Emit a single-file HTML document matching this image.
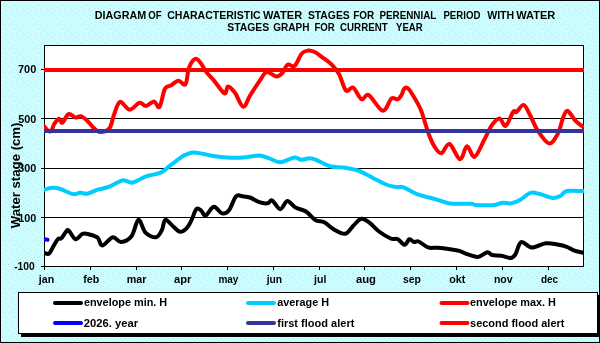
<!DOCTYPE html>
<html><head><meta charset="utf-8"><style>
html,body{margin:0;padding:0;width:600px;height:343px;overflow:hidden;background:#ccffff}
svg{display:block;will-change:transform}
.t{font-family:"Liberation Sans",sans-serif;font-weight:bold;font-size:10.5px;fill:#000}
.tt{font-family:"Liberation Sans",sans-serif;font-weight:bold;font-size:10.5px;fill:#000}
.at{font-family:"Liberation Sans",sans-serif;font-weight:bold;font-size:13.2px;fill:#000}
</style></head><body>
<svg width="600" height="343" viewBox="0 0 600 343">
<defs><pattern id="dots" width="12" height="12" patternUnits="userSpaceOnUse"><rect width="12" height="12" fill="#ccffff"/><g fill="#bde6ee"><rect x="2" y="0" width="1" height="1"/><rect x="5" y="0" width="1" height="1"/><rect x="8" y="0" width="1" height="1"/><rect x="11" y="0" width="1" height="1"/><rect x="0" y="2" width="1" height="1"/><rect x="4" y="2" width="1" height="1"/><rect x="9" y="2" width="1" height="1"/><rect x="6" y="3" width="1" height="1"/><rect x="3" y="4" width="1" height="1"/><rect x="1" y="5" width="1" height="1"/><rect x="7" y="5" width="1" height="1"/><rect x="10" y="5" width="1" height="1"/><rect x="5" y="6" width="1" height="1"/><rect x="8" y="7" width="1" height="1"/><rect x="2" y="8" width="1" height="1"/><rect x="5" y="8" width="1" height="1"/><rect x="11" y="8" width="1" height="1"/><rect x="0" y="10" width="1" height="1"/><rect x="4" y="10" width="1" height="1"/><rect x="7" y="10" width="1" height="1"/><rect x="10" y="10" width="1" height="1"/></g></pattern><clipPath id="pc"><rect x="44" y="45" width="540" height="222"/></clipPath></defs>
<rect x="0" y="0" width="600" height="343" fill="url(#dots)"/>
<rect x="0.5" y="0.5" width="599" height="342" fill="none" stroke="#000" stroke-width="1"/>
<rect x="44.5" y="45.5" width="539" height="221" fill="#fff"/>
<line x1="44" x2="584" y1="217.5" y2="217.5" stroke="#000" stroke-width="1"/>
<line x1="44" x2="584" y1="168.5" y2="168.5" stroke="#000" stroke-width="1"/>
<line x1="44" x2="584" y1="118.5" y2="118.5" stroke="#000" stroke-width="1"/>
<line x1="44" x2="584" y1="69.5" y2="69.5" stroke="#000" stroke-width="1"/>
<rect x="44.5" y="45.5" width="539" height="221" fill="none" stroke="#000" stroke-width="1"/>
<line x1="41" x2="44" y1="266.5" y2="266.5" stroke="#000" stroke-width="1"/>
<line x1="41" x2="44" y1="217.5" y2="217.5" stroke="#000" stroke-width="1"/>
<line x1="41" x2="44" y1="168.5" y2="168.5" stroke="#000" stroke-width="1"/>
<line x1="41" x2="44" y1="118.5" y2="118.5" stroke="#000" stroke-width="1"/>
<line x1="41" x2="44" y1="69.5" y2="69.5" stroke="#000" stroke-width="1"/>
<line x1="44.5" x2="44.5" y1="266" y2="270" stroke="#000" stroke-width="1"/>
<line x1="90.5" x2="90.5" y1="266" y2="270" stroke="#000" stroke-width="1"/>
<line x1="136.5" x2="136.5" y1="266" y2="270" stroke="#000" stroke-width="1"/>
<line x1="181.5" x2="181.5" y1="266" y2="270" stroke="#000" stroke-width="1"/>
<line x1="227.5" x2="227.5" y1="266" y2="270" stroke="#000" stroke-width="1"/>
<line x1="273.5" x2="273.5" y1="266" y2="270" stroke="#000" stroke-width="1"/>
<line x1="319.5" x2="319.5" y1="266" y2="270" stroke="#000" stroke-width="1"/>
<line x1="364.5" x2="364.5" y1="266" y2="270" stroke="#000" stroke-width="1"/>
<line x1="410.5" x2="410.5" y1="266" y2="270" stroke="#000" stroke-width="1"/>
<line x1="456.5" x2="456.5" y1="266" y2="270" stroke="#000" stroke-width="1"/>
<line x1="502.5" x2="502.5" y1="266" y2="270" stroke="#000" stroke-width="1"/>
<line x1="548.5" x2="548.5" y1="266" y2="270" stroke="#000" stroke-width="1"/>
<g clip-path="url(#pc)" fill="none" stroke-linecap="round" stroke-linejoin="round" stroke-width="4">
<path d="M44.0,252.8 C44.9,252.9 47.5,254.7 49.1,253.6 C50.7,252.5 52.0,248.5 53.5,246.1 C55.0,243.7 56.6,240.4 57.9,239.1 C59.2,237.8 60.1,239.4 61.4,238.2 C62.7,237.0 64.5,233.4 65.7,232.1 C66.9,230.8 66.9,229.1 68.5,230.3 C70.1,231.5 73.2,238.6 75.5,239.2 C77.8,239.8 80.2,234.6 82.5,233.8 C84.8,233.0 87.0,233.8 89.5,234.5 C92.0,235.2 95.6,236.0 97.7,237.8 C99.8,239.6 99.8,245.6 102.3,245.5 C104.8,245.4 109.7,237.9 112.8,237.3 C115.9,236.7 117.9,242.2 121.0,242.0 C124.1,241.8 128.6,239.9 131.5,236.2 C134.4,232.5 136.2,220.4 138.5,219.8 C140.8,219.2 142.6,229.8 145.5,232.7 C148.4,235.6 153.3,237.7 156.0,237.3 C158.7,236.9 160.2,233.2 161.8,230.3 C163.4,227.4 163.4,220.4 165.3,219.8 C167.2,219.2 171.1,224.8 173.5,226.8 C175.9,228.8 177.8,231.6 180.0,231.8 C182.2,232.0 185.1,229.8 187.0,227.8 C188.9,225.8 190.1,222.8 191.7,219.7 C193.2,216.6 194.8,210.8 196.3,209.2 C197.9,207.6 199.4,209.2 201.0,210.3 C202.6,211.4 203.6,216.1 205.7,215.5 C207.8,214.9 211.1,207.2 213.8,206.8 C216.5,206.5 219.5,212.8 222.0,213.4 C224.5,214.0 226.7,213.2 229.0,210.3 C231.3,207.5 233.7,198.6 236.0,196.3 C238.3,194.0 240.7,196.1 243.0,196.3 C245.3,196.5 247.3,196.5 250.0,197.5 C252.7,198.5 256.4,201.2 259.3,202.2 C262.2,203.2 265.4,203.6 267.5,203.3 C269.6,203.0 270.1,199.5 272.2,200.5 C274.3,201.5 277.8,209.1 280.3,209.2 C282.8,209.3 284.8,201.3 287.3,201.0 C289.8,200.7 292.4,205.8 295.5,207.5 C298.6,209.2 302.7,209.4 306.0,211.5 C309.3,213.6 312.3,218.3 315.3,220.1 C318.3,221.9 321.2,220.7 324.2,222.2 C327.2,223.7 330.0,227.3 333.5,229.2 C337.0,231.1 341.9,234.4 345.2,233.8 C348.5,233.2 350.6,228.2 353.3,225.7 C356.0,223.2 358.8,219.2 361.5,218.7 C364.2,218.2 366.8,220.8 369.7,222.9 C372.6,225.0 375.5,228.9 379.0,231.5 C382.5,234.1 387.6,237.2 390.7,238.5 C393.8,239.8 395.4,238.1 397.7,239.2 C400.0,240.2 402.8,244.8 404.7,244.8 C406.6,244.8 407.8,239.7 409.3,239.2 C410.9,238.7 412.4,241.6 414.0,242.0 C415.6,242.4 416.4,240.6 418.7,241.5 C421.0,242.4 424.9,246.3 428.0,247.4 C431.1,248.5 433.6,247.5 437.3,247.8 C441.0,248.1 446.3,248.7 450.0,249.2 C453.7,249.7 456.6,250.0 459.3,250.8 C462.0,251.6 463.2,252.8 466.3,253.8 C469.4,254.8 474.5,257.2 478.0,256.9 C481.5,256.6 485.0,252.5 487.3,252.2 C489.6,251.9 489.7,254.4 492.0,255.0 C494.3,255.6 498.2,255.2 501.3,255.7 C504.4,256.2 508.4,258.2 510.7,258.0 C513.0,257.8 513.5,257.1 515.3,254.5 C517.0,251.9 518.5,243.4 521.2,242.2 C523.9,241.0 527.6,247.3 531.7,247.5 C535.8,247.7 541.4,243.8 545.7,243.3 C550.0,242.8 553.8,243.9 557.3,244.5 C560.8,245.1 564.0,245.8 566.7,246.8 C569.4,247.8 571.0,249.3 573.7,250.3 C576.4,251.3 581.5,252.3 583.0,252.7" stroke="#000"/>
<path d="M44.0,189.7 C45.4,189.4 49.5,187.9 52.2,187.8 C54.9,187.7 56.8,187.9 60.3,189.0 C63.8,190.1 69.9,193.5 73.2,194.1 C76.5,194.7 77.9,192.8 80.2,192.7 C82.5,192.6 84.3,194.2 87.2,193.7 C90.1,193.2 94.0,190.9 97.7,189.7 C101.4,188.5 105.4,188.2 109.3,186.7 C113.2,185.2 118.3,181.8 121.0,180.8 C123.7,179.8 123.8,180.5 125.7,180.8 C127.7,181.1 129.2,183.3 132.7,182.5 C136.2,181.7 142.0,177.8 146.7,176.2 C151.4,174.6 156.8,174.4 160.7,172.7 C164.6,170.9 166.9,168.0 170.0,165.7 C173.1,163.4 176.9,160.4 179.3,158.7 C181.8,156.9 182.4,156.2 184.7,155.2 C186.9,154.1 189.7,152.6 192.8,152.4 C195.9,152.2 199.6,153.3 203.3,154.0 C207.0,154.7 211.1,155.7 215.0,156.3 C218.9,156.9 222.0,157.3 226.7,157.5 C231.4,157.7 237.6,157.8 243.0,157.5 C248.4,157.2 255.0,155.5 259.3,155.6 C263.6,155.7 265.2,157.1 268.7,158.2 C272.2,159.3 276.0,162.3 280.3,162.2 C284.6,162.1 290.8,157.9 294.3,157.5 C297.8,157.1 298.8,159.7 301.3,159.8 C303.8,159.9 307.1,158.2 309.5,158.2 C311.9,158.2 312.6,158.5 316.0,159.8 C319.4,161.2 325.3,165.0 330.0,166.3 C334.7,167.6 339.3,166.8 344.0,167.5 C348.7,168.2 353.3,168.8 358.0,170.5 C362.7,172.2 367.3,175.2 372.0,177.5 C376.7,179.8 382.1,182.9 386.0,184.5 C389.9,186.1 392.4,186.4 395.3,186.9 C398.2,187.4 400.0,186.1 403.5,187.3 C407.0,188.5 411.8,192.2 416.3,193.9 C420.8,195.7 426.0,196.6 430.3,197.8 C434.6,199.0 438.7,200.4 442.0,201.3 C445.3,202.2 445.2,203.0 450.0,203.4 C454.8,203.8 466.7,203.5 471.0,203.8 C475.3,204.1 471.8,204.8 475.7,205.0 C479.6,205.2 489.8,205.4 494.3,205.0 C498.8,204.6 499.8,203.0 502.5,202.7 C505.2,202.4 507.8,203.9 510.7,203.4 C513.6,202.9 516.7,201.7 520.0,199.9 C523.3,198.2 527.2,193.9 530.5,192.9 C533.8,191.9 536.1,193.2 539.8,194.0 C543.5,194.8 549.2,197.7 552.7,198.0 C556.2,198.3 558.5,196.9 560.8,195.7 C563.1,194.5 563.0,191.8 566.7,191.0 C570.4,190.2 580.3,191.0 583.0,191.0" stroke="#00ccff"/>
<path d="M44.0,126.3 C45.0,127.2 48.4,132.0 50.1,131.6 C51.9,131.2 53.0,125.8 54.5,123.7 C56.0,121.6 57.6,119.0 58.9,118.8 C60.2,118.6 60.8,123.6 62.4,122.8 C64.0,122.0 66.3,115.0 68.5,114.1 C70.7,113.2 73.5,117.2 75.5,117.6 C77.5,117.9 78.8,115.8 80.7,116.2 C82.6,116.6 84.8,118.4 86.8,120.2 C88.8,122.0 90.8,125.2 93.0,127.2 C95.2,129.2 97.2,132.0 100.0,132.1 C102.8,132.2 107.3,130.8 109.6,128.0 C111.9,125.2 112.2,119.3 113.9,115.0 C115.6,110.7 117.4,102.8 120.0,101.9 C122.6,101.0 126.4,109.6 129.7,109.7 C132.9,109.8 136.8,103.4 139.5,102.8 C142.2,102.2 143.6,106.2 146.0,106.0 C148.4,105.8 151.8,101.2 154.0,101.4 C156.2,101.6 157.7,109.1 159.5,107.0 C161.3,104.9 163.0,92.6 164.8,89.0 C166.7,85.4 168.3,87.0 170.6,85.6 C172.9,84.2 176.0,81.0 178.5,80.8 C181.0,80.6 183.8,86.5 185.5,84.3 C187.2,82.1 187.4,71.9 189.0,67.7 C190.6,63.5 193.1,59.9 195.0,59.0 C196.9,58.1 198.4,60.3 200.3,62.5 C202.2,64.7 204.1,69.1 206.4,72.1 C208.7,75.1 211.0,77.0 214.0,80.6 C217.0,84.1 222.2,92.4 224.5,93.4 C226.8,94.4 226.2,86.5 228.0,86.4 C229.8,86.3 232.5,89.4 235.0,92.8 C237.5,96.2 240.7,106.4 243.2,106.8 C245.7,107.2 247.5,99.5 250.2,95.2 C252.9,90.9 256.8,85.1 259.5,81.2 C262.2,77.3 263.8,72.9 266.6,72.1 C269.4,71.3 273.6,76.3 276.2,76.5 C278.8,76.7 280.4,75.0 282.3,73.0 C284.2,71.0 285.6,65.8 287.6,64.6 C289.7,63.4 292.3,67.8 294.6,66.0 C296.9,64.2 299.4,56.3 301.6,53.7 C303.8,51.1 305.5,50.9 307.7,50.6 C309.9,50.3 312.1,50.8 314.7,52.0 C317.3,53.2 320.6,56.1 323.4,58.1 C326.2,60.1 328.7,61.6 331.3,64.2 C333.9,66.9 336.6,69.6 339.0,74.0 C341.4,78.4 343.7,88.3 346.0,90.6 C348.3,92.9 350.4,86.1 353.0,87.6 C355.6,89.0 359.1,98.1 361.7,99.3 C364.3,100.5 365.2,93.1 368.7,95.0 C372.2,96.9 378.9,110.1 382.7,110.7 C386.5,111.3 388.9,100.4 391.4,98.5 C393.9,96.6 395.9,99.9 397.6,99.3 C399.3,98.7 400.4,96.7 401.5,95.0 C402.6,93.3 403.0,90.2 404.0,89.0 C405.0,87.8 406.2,87.3 407.5,88.0 C408.8,88.7 409.3,89.4 411.5,93.0 C413.7,96.6 418.0,103.0 420.8,109.8 C423.6,116.5 426.2,127.4 428.5,133.5 C430.8,139.6 432.2,143.0 434.3,146.3 C436.4,149.6 438.8,153.7 441.3,153.3 C443.8,152.9 446.4,143.0 449.5,144.0 C452.6,145.0 457.1,158.8 460.0,159.2 C462.9,159.6 464.6,146.7 467.0,146.3 C469.4,145.9 471.7,158.0 474.6,156.8 C477.5,155.6 481.6,144.6 484.5,139.3 C487.4,134.1 489.2,128.8 491.7,125.3 C494.2,121.8 497.2,118.3 499.5,118.4 C501.8,118.5 503.4,127.0 505.7,125.9 C508.0,124.8 511.3,114.2 513.1,111.9 C514.9,109.6 514.9,113.1 516.6,111.9 C518.4,110.7 521.4,104.5 523.6,104.9 C525.8,105.3 527.5,110.3 529.8,114.5 C532.1,118.7 534.4,125.5 537.6,130.3 C540.8,135.1 545.6,142.8 549.0,143.4 C552.4,144.0 555.5,138.0 557.8,133.8 C560.1,129.6 561.4,121.8 563.0,118.0 C564.6,114.2 565.4,110.3 567.4,110.7 C569.4,111.1 572.7,117.9 575.3,120.6 C577.9,123.3 581.7,125.8 583.0,126.8" stroke="#ff0000"/>
<path d="M44.5,239.3 L47.5,239.8" stroke="#0000ff"/>
<line x1="44" x2="584" y1="131" y2="131" stroke="#333399" stroke-linecap="butt"/>
<line x1="44" x2="584" y1="70" y2="70" stroke="#ff0000" stroke-linecap="butt"/>
</g>
<text transform="translate(20.4,228.3) rotate(-90)" class="at">Water stage (cm)</text>
<rect x="21" y="295" width="580" height="42" fill="#000"/>
<rect x="18.5" y="292.5" width="579" height="41" fill="#fff" stroke="#000" stroke-width="1"/>
<line x1="55.0" x2="81.0" y1="303" y2="303" stroke="#000" stroke-width="4" stroke-linecap="round"/>
<line x1="248.0" x2="274.0" y1="303" y2="303" stroke="#00ccff" stroke-width="4" stroke-linecap="round"/>
<line x1="441.5" x2="467.5" y1="303" y2="303" stroke="#ff0000" stroke-width="4" stroke-linecap="round"/>
<line x1="55.0" x2="81.0" y1="323" y2="323" stroke="#0000ff" stroke-width="4" stroke-linecap="round"/>
<line x1="248.0" x2="274.0" y1="323" y2="323" stroke="#333399" stroke-width="4" stroke-linecap="round"/>
<line x1="441.5" x2="467.5" y1="323" y2="323" stroke="#ff0000" stroke-width="4" stroke-linecap="round"/>
<text x="94.76" y="18.8" class="tt" textLength="51.42" lengthAdjust="spacingAndGlyphs">DIAGRAM</text>
<text x="148.22" y="18.8" class="tt" textLength="13.36" lengthAdjust="spacingAndGlyphs">OF</text>
<text x="167.22" y="18.8" class="tt" textLength="93.50" lengthAdjust="spacingAndGlyphs">CHARACTERISTIC</text>
<text x="263.04" y="18.8" class="tt" textLength="39.14" lengthAdjust="spacingAndGlyphs">WATER</text>
<text x="307.90" y="18.8" class="tt" textLength="41.82" lengthAdjust="spacingAndGlyphs">STAGES</text>
<text x="353.22" y="18.8" class="tt" textLength="21.00" lengthAdjust="spacingAndGlyphs">FOR</text>
<text x="379.40" y="18.8" class="tt" textLength="57.00" lengthAdjust="spacingAndGlyphs">PERENNIAL</text>
<text x="443.40" y="18.8" class="tt" textLength="37.00" lengthAdjust="spacingAndGlyphs">PERIOD</text>
<text x="487.18" y="18.8" class="tt" textLength="27.00" lengthAdjust="spacingAndGlyphs">WITH</text>
<text x="516.22" y="18.8" class="tt" textLength="39.00" lengthAdjust="spacingAndGlyphs">WATER</text>
<text x="227.22" y="30.8" class="tt" textLength="42.00" lengthAdjust="spacingAndGlyphs">STAGES</text>
<text x="273.22" y="30.8" class="tt" textLength="36.18" lengthAdjust="spacingAndGlyphs">GRAPH</text>
<text x="314.40" y="30.8" class="tt" textLength="20.36" lengthAdjust="spacingAndGlyphs">FOR</text>
<text x="340.08" y="30.8" class="tt" textLength="47.54" lengthAdjust="spacingAndGlyphs">CURRENT</text>
<text x="396.00" y="30.8" class="tt" textLength="26.58" lengthAdjust="spacingAndGlyphs">YEAR</text>
<text x="38.78" y="282.7" class="t" textLength="15.40" lengthAdjust="spacingAndGlyphs">jan</text>
<text x="83.18" y="282.7" class="t" textLength="16.04" lengthAdjust="spacingAndGlyphs">feb</text>
<text x="126.76" y="282.7" class="t" textLength="19.68" lengthAdjust="spacingAndGlyphs">mar</text>
<text x="174.04" y="282.7" class="t" textLength="17.36" lengthAdjust="spacingAndGlyphs">apr</text>
<text x="218.40" y="282.7" class="t" textLength="20.00" lengthAdjust="spacingAndGlyphs">may</text>
<text x="266.64" y="282.7" class="t" textLength="15.40" lengthAdjust="spacingAndGlyphs">jun</text>
<text x="314.10" y="282.7" class="t" textLength="12.26" lengthAdjust="spacingAndGlyphs">jul</text>
<text x="355.90" y="282.7" class="t" textLength="20.10" lengthAdjust="spacingAndGlyphs">aug</text>
<text x="403.04" y="282.7" class="t" textLength="17.86" lengthAdjust="spacingAndGlyphs">sep</text>
<text x="449.18" y="282.7" class="t" textLength="16.22" lengthAdjust="spacingAndGlyphs">okt</text>
<text x="493.94" y="282.7" class="t" textLength="18.68" lengthAdjust="spacingAndGlyphs">nov</text>
<text x="540.90" y="282.7" class="t" textLength="17.18" lengthAdjust="spacingAndGlyphs">dec</text>
<text x="18.04" y="72.8" class="t" textLength="18.18" lengthAdjust="spacingAndGlyphs">700</text>
<text x="18.22" y="122.8" class="t" textLength="18.00" lengthAdjust="spacingAndGlyphs">500</text>
<text x="18.22" y="172.3" class="t" textLength="18.00" lengthAdjust="spacingAndGlyphs">300</text>
<text x="18.22" y="221.8" class="t" textLength="18.00" lengthAdjust="spacingAndGlyphs">100</text>
<text x="14.18" y="269.8" class="t" textLength="20.54" lengthAdjust="spacingAndGlyphs">-100</text>
<text x="83.90" y="305.9" class="t" textLength="83.32" lengthAdjust="spacingAndGlyphs">envelope min. H</text>
<text x="83.72" y="326.8" class="t" textLength="54.36" lengthAdjust="spacingAndGlyphs">2026. year</text>
<text x="277.18" y="305.9" class="t" textLength="51.86" lengthAdjust="spacingAndGlyphs">average H</text>
<text x="277.22" y="326.8" class="t" textLength="77.18" lengthAdjust="spacingAndGlyphs">first flood alert</text>
<text x="470.04" y="305.9" class="t" textLength="85.96" lengthAdjust="spacingAndGlyphs">envelope max. H</text>
<text x="470.04" y="326.8" class="t" textLength="94.40" lengthAdjust="spacingAndGlyphs">second flood alert</text>
</svg>
</body></html>
